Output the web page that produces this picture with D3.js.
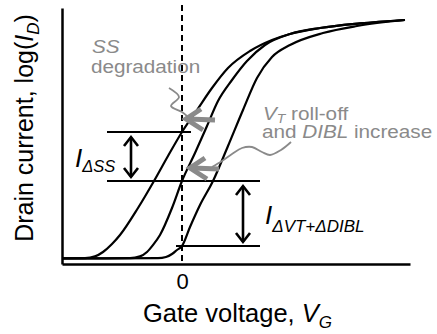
<!DOCTYPE html>
<html>
<head>
<meta charset="utf-8">
<script src="https://cdn.jsdelivr.net/npm/d3@7"></script>
<style>
  body { margin: 0; background: #fff; }
  svg { display: block; }
  text { font-family: "Liberation Sans", Arial, Helvetica, sans-serif; }
</style>
</head>
<body>
<svg id="chart" width="437" height="334"></svg>
<script>
// Transfer curves: gate voltage (relative V) vs. log drain current (relative decades)
const vgDegraded   = [-1.19, -0.97, -0.87, -0.79, -0.70, -0.62, -0.44, -0.28, -0.14, 0.00, 0.15, 0.30, 0.46, 0.68, 0.90, 1.08, 1.38, 1.78, 2.23];
const logIdDegraded = [0.28, 0.29, 0.38, 0.60, 1.00, 1.45, 2.80, 4.15, 5.40, 6.60, 7.70, 8.80, 9.80, 10.65, 11.20, 11.50, 11.80, 12.03, 12.20];

const vgShifted    = [-1.19, -0.52, -0.42, -0.35, -0.29, -0.22, -0.10, 0.00, 0.13, 0.25, 0.36, 0.50, 0.65, 0.83, 1.08, 1.38, 1.78, 2.23];
const logIdShifted = [0.28, 0.29, 0.38, 0.60, 0.95, 1.45, 2.80, 4.15, 5.55, 6.90, 8.15, 9.20, 10.15, 10.95, 11.50, 11.80, 12.03, 12.20];

const vgReference    = [-1.19, -0.24, -0.16, -0.10, -0.05, 0.00, 0.08, 0.18, 0.31, 0.46, 0.61, 0.75, 0.90, 1.08, 1.41, 1.75, 2.23];
const logIdReference = [0.28, 0.29, 0.35, 0.50, 0.70, 0.90, 1.85, 2.95, 4.15, 5.90, 7.70, 9.30, 10.35, 10.95, 11.55, 11.90, 12.20];

// Current levels read at V_G = 0 for each curve
const levelDegraded = 6.60;
const levelShifted = 4.15;
const levelReference = 0.90;

// Horizontal guide extents (gate voltage)
const guideTop = [-0.75, 0.09];
const guideMid = [-0.75, 0.78];
const guideLow = [-0.06, 0.78];

// Double-arrow positions (gate voltage)
const arrowSSAt = -0.51;
const arrowVTAt = 0.61;

// Gray callout arrows: tip (vg, logId) and leader squiggles
const calloutSSTip = [0.04, 7.25];
const calloutVTTip = [0.08, 4.80];
const leaderSS = [[-0.13, 8.80], [-0.03, 8.35], [-0.11, 7.90], [0.00, 7.60], [0.06, 7.35]];
const leaderVT = [[1.09, 6.10], [0.99, 5.70], [0.88, 5.45], [0.80, 5.60], [0.70, 5.85], [0.60, 5.80], [0.50, 5.50], [0.40, 5.15], [0.30, 4.85]];

const xTickValues = [0];
const xTickLabels = ["0"];

const svg = d3.select("#chart");
const x = d3.scaleLinear().domain([-1.2, 2.28]).range([62, 410]);
const y = d3.scaleLinear().domain([0, 12.8]).range([264, 8]);

const black = "#000";
const gray = "#8a8a8a";

// Axes (no ticks except the single 0 label)
const xAxis = d3.axisBottom(x)
  .tickValues(xTickValues)
  .tickFormat((d, i) => xTickLabels[i])
  .tickSize(0)
  .tickSizeOuter(0)
  .tickPadding(9);
const gx = svg.append("g").attr("transform", `translate(0,${y(0)})`).call(xAxis);
gx.select(".domain").attr("stroke", black).attr("stroke-width", 2.5);
gx.selectAll("text").attr("font-size", 22).attr("fill", black)
  .attr("font-family", "'Liberation Sans', Arial, sans-serif");

const yAxis = d3.axisLeft(y).tickValues([]).tickSizeOuter(0);
const gy = svg.append("g").attr("transform", `translate(${x(-1.2)},0)`).call(yAxis);
gy.select(".domain").attr("stroke", black).attr("stroke-width", 2.5);

// Dashed V_G = 0 line
svg.append("line")
  .attr("x1", x(0)).attr("x2", x(0))
  .attr("y1", y(12.95)).attr("y2", y(0))
  .attr("stroke", black).attr("stroke-width", 2)
  .attr("stroke-dasharray", "6,4");

// Transfer curves
const line = d3.line().x(d => x(d[0])).y(d => y(d[1])).curve(d3.curveMonotoneX);
[[vgDegraded, logIdDegraded], [vgShifted, logIdShifted], [vgReference, logIdReference]].forEach(([vs, ls]) => {
  svg.append("path")
    .datum(vs.map((v, i) => [v, ls[i]]))
    .attr("d", line)
    .attr("fill", "none")
    .attr("stroke", black)
    .attr("stroke-width", 2.2);
});

// Horizontal guides at the V_G = 0 current levels
[[guideTop, levelDegraded], [guideMid, levelShifted], [guideLow, levelReference]].forEach(([ext, lv]) => {
  svg.append("line")
    .attr("x1", x(ext[0])).attr("x2", x(ext[1]))
    .attr("y1", y(lv)).attr("y2", y(lv))
    .attr("stroke", black).attr("stroke-width", 2);
});

// Vertical double arrows with open heads
function doubleArrow(vg, hi, lo) {
  const cx = x(vg), yt = y(hi) + 5, yb = y(lo) - 4;
  const g = svg.append("g").attr("fill", "none").attr("stroke", black).attr("stroke-width", 2.6);
  g.append("line").attr("x1", cx).attr("x2", cx).attr("y1", yt).attr("y2", yb);
  g.append("path").attr("d", `M${cx - 7},${yt + 9}L${cx},${yt}L${cx + 7},${yt + 9}`);
  g.append("path").attr("d", `M${cx - 7},${yb - 9}L${cx},${yb}L${cx + 7},${yb - 9}`);
}
doubleArrow(arrowSSAt, levelDegraded, levelShifted);
doubleArrow(arrowVTAt, levelShifted, levelReference);

// Gray callouts
const leader = d3.line().x(d => x(d[0])).y(d => y(d[1])).curve(d3.curveCatmullRom);
[leaderSS, leaderVT].forEach(pts => {
  svg.append("path").attr("d", leader(pts))
    .attr("fill", "none").attr("stroke", gray).attr("stroke-width", 1.8);
});
function grayArrow(tip) {
  const tx = x(tip[0]), ty = y(tip[1]);
  const g = svg.append("g").attr("fill", "none").attr("stroke", gray).attr("stroke-width", 5);
  g.append("line").attr("x1", tx + 2).attr("x2", tx + 29).attr("y1", ty).attr("y2", ty + 1);
  g.append("path").attr("d", `M${tx + 15},${ty - 10}L${tx},${ty}L${tx + 17},${ty + 11}`);
}
grayArrow(calloutSSTip);
grayArrow(calloutVTTip);

// Gray callout text (two lines each, slightly widened lettering)
const t1 = svg.append("text").attr("transform", "translate(92,53) scale(1.12,1)")
  .attr("fill", gray).attr("font-size", 18.5);
t1.append("tspan").attr("font-style", "italic").text("SS");
t1.append("tspan").attr("x", -1).attr("dy", 20).text("degradation");

const t2 = svg.append("text").attr("transform", "translate(263,120) scale(1.12,1)")
  .attr("fill", gray).attr("font-size", 18.5);
t2.append("tspan").attr("font-style", "italic").text("V");
t2.append("tspan").attr("font-style", "italic").attr("font-size", 12.5).attr("dy", 3).text("T");
t2.append("tspan").attr("dy", -3).text(" roll-off");
t2.append("tspan").attr("x", -1).attr("dy", 18).text("and ");
t2.append("tspan").attr("font-style", "italic").text("DIBL");
t2.append("tspan").text(" increase");

// Current-difference labels
const l1 = svg.append("text").attr("x", 75).attr("y", 167).attr("fill", black).attr("font-size", 26).attr("font-style", "italic");
l1.append("tspan").text("I");
l1.append("tspan").attr("font-size", 16.5).attr("dy", 5).text("ΔSS");
const l2 = svg.append("text").attr("x", 265).attr("y", 224).attr("fill", black).attr("font-size", 26).attr("font-style", "italic");
l2.append("tspan").text("I");
l2.append("tspan").attr("font-size", 17).attr("dy", 8).text("ΔVT+ΔDIBL");

// Axis titles
const xt = svg.append("text").attr("x", 143).attr("y", 322).attr("fill", black).attr("font-size", 25.5);
xt.append("tspan").text("Gate voltage, ");
xt.append("tspan").attr("font-style", "italic").text("V");
xt.append("tspan").attr("font-style", "italic").attr("font-size", 17).attr("dy", 6).text("G");

const yt = svg.append("text")
  .attr("transform", "translate(33,128) rotate(-90)")
  .attr("text-anchor", "middle").attr("fill", black).attr("font-size", 25);
yt.append("tspan").text("Drain current, log(");
yt.append("tspan").attr("font-style", "italic").text("I");
yt.append("tspan").attr("font-style", "italic").attr("font-size", 17).attr("dy", 6).text("D");
yt.append("tspan").attr("dy", -6).text(")");
</script>
</body>
</html>
